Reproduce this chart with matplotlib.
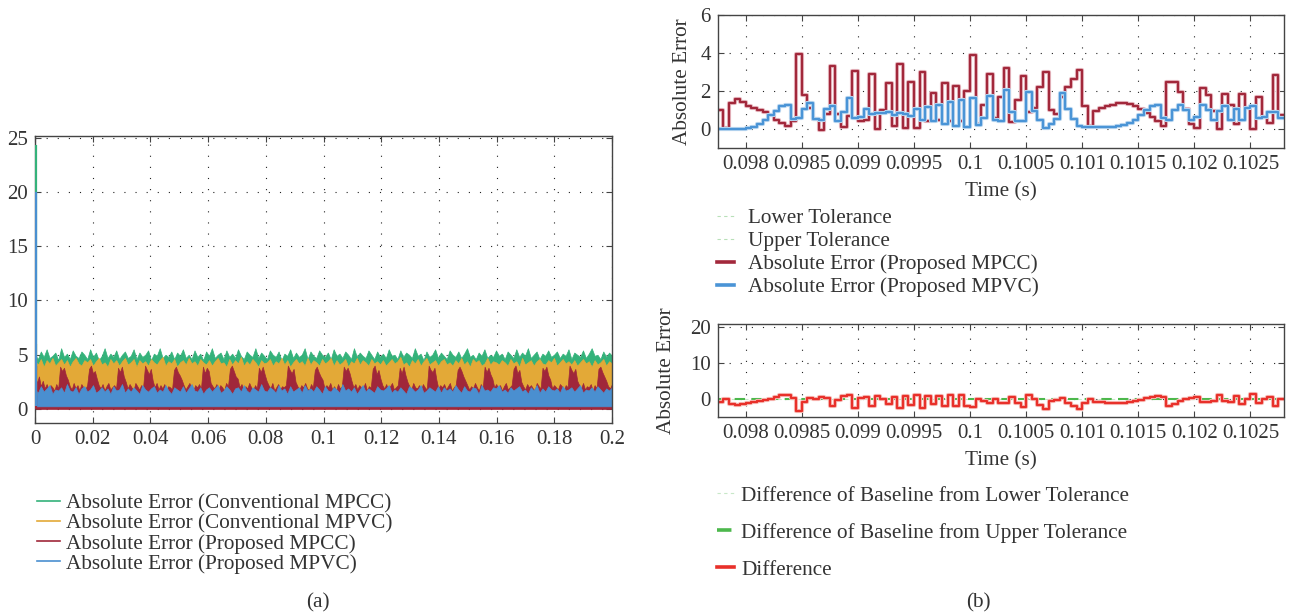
import numpy as np
import matplotlib
matplotlib.use('Agg')
import matplotlib.pyplot as plt
import matplotlib.patheffects as pe
from matplotlib.lines import Line2D
from matplotlib.ticker import FormatStrFormatter

plt.rcParams['font.family'] = ['Liberation Serif', 'DejaVu Serif']

# ---------------- data, panel (a): envelope samples of the dense error signals ----------------
startup_t = 0.0003
startup_peak = [24.3, 6.0, 4.0, 20.0]  # green, yellow, red, blue at switch-on
green_hi = [5.0, 4.6, 5.3, 4.8, 5.5, 4.7, 4.9, 5.2, 4.5, 5.6, 4.8, 5.1, 4.6, 5.4, 4.9, 4.7, 5.3, 5.0, 4.6, 5.5,
            4.8, 5.2, 4.5, 4.9, 5.6, 4.7, 5.1, 4.8, 5.4, 4.6, 5.0, 5.3, 4.7, 4.9, 5.5, 4.6, 5.2, 4.8, 5.0, 5.4,
            4.5, 5.1, 4.9, 5.6, 4.7, 5.0, 4.8, 5.3, 4.6, 5.2, 4.9, 5.5, 4.7, 5.0, 4.6, 5.4, 4.8, 5.1, 4.5, 5.3,
            4.9, 5.6, 4.7, 5.0, 5.2, 4.6, 5.4, 4.8, 5.1, 4.7, 5.5, 4.9, 4.6, 5.3, 5.0, 4.8, 5.6, 4.7, 5.2, 4.9,
            4.6, 5.4, 5.0, 4.8, 5.3, 4.5, 5.1, 4.9, 5.5, 4.7, 5.2, 4.8, 5.0, 5.6, 4.6, 5.3, 4.9, 4.7, 5.4, 5.0,
            4.8, 5.2, 4.6, 5.5, 4.9, 5.1, 4.7, 5.3, 5.0, 4.6, 5.6, 4.8, 5.2, 4.9, 4.7, 5.4, 5.0, 4.6, 5.3, 4.8,
            5.1, 4.7, 5.5, 4.9, 5.0, 4.6, 5.4, 4.8, 5.2, 5.0, 4.7, 5.6, 4.9, 5.1, 4.5, 5.3, 4.8, 5.0, 5.5, 4.7,
            5.2, 4.9, 4.6, 5.4, 5.0, 4.8, 5.3, 4.7, 5.1, 5.6, 4.8, 5.0, 4.6, 5.2, 4.9, 5.5, 4.7, 5.0, 4.8, 5.4,
            4.9, 5.1, 4.6, 5.3, 5.0, 4.7, 5.5, 4.8, 5.2, 4.9, 5.6, 4.7, 5.0, 5.3, 4.6, 5.1, 4.9, 5.4, 4.8, 5.0,
            5.3, 4.7, 5.1, 4.9, 5.5, 4.6, 5.2, 5.0, 4.8, 5.4, 4.7, 5.1, 5.6, 4.9, 5.0, 4.6, 5.3, 4.8, 5.2, 4.9]
green_floor = 3.6
yellow_hi = [4.4, 4.1, 4.6, 3.9, 4.5, 4.2, 4.7, 4.0, 4.3, 4.6, 4.1, 4.5, 3.9, 4.4, 4.7, 4.2, 4.0, 4.5, 4.3, 4.6,
             4.0, 4.4, 4.7, 4.1, 4.3, 3.9, 4.6, 4.2, 4.5, 4.0, 4.4, 4.7, 4.1, 4.3, 4.6, 3.9, 4.5, 4.2, 4.4, 4.0,
             4.6, 4.3, 4.1, 4.5, 4.8, 4.0, 4.4, 4.2, 4.6, 3.9, 4.3, 4.5, 4.1, 4.7, 4.2, 4.4, 4.0, 4.6, 4.3, 4.1,
             4.5, 4.0, 4.4, 4.7, 4.2, 4.3, 3.9, 4.6, 4.1, 4.5, 4.2, 4.8, 4.0, 4.4, 4.1, 4.6, 4.3, 3.9, 4.5, 4.2,
             4.3, 4.6, 4.0, 4.4, 4.2, 4.7, 4.1, 4.5, 3.9, 4.3, 4.6, 4.2, 4.4, 4.0, 4.7, 4.1, 4.5, 4.3, 4.0, 4.6,
             4.2, 4.4, 4.7, 4.0, 4.5, 4.1, 4.3, 4.6, 3.9, 4.4, 4.2, 4.7, 4.1, 4.5, 4.3, 4.0, 4.6, 4.2, 4.4, 4.1,
             4.5, 4.0, 4.3, 4.6, 4.2, 4.4, 4.8, 4.1, 4.3, 3.9, 4.5, 4.2, 4.6, 4.0, 4.4, 4.7, 4.1, 4.3, 4.5, 4.0,
             4.4, 4.6, 4.1, 4.3, 4.0, 4.5, 4.2, 4.7, 4.1, 4.4, 3.9, 4.6, 4.3, 4.5, 4.0, 4.2, 4.7, 4.1, 4.4, 4.3,
             4.1, 4.5, 4.3, 4.0, 4.6, 4.2, 4.4, 3.9, 4.7, 4.1, 4.3, 4.5, 4.0, 4.4, 4.6, 4.2, 4.1, 4.5, 4.3, 4.7,
             4.0, 4.3, 4.6, 4.2, 4.4, 4.1, 4.5, 4.0, 4.3, 4.6, 4.2, 4.4, 3.9, 4.5, 4.1, 4.3, 4.6, 4.0, 4.4, 4.2]
yellow_floor = 1.2
red_hi = [3.2, 2.4, 3.0, 2.1, 2.6, 1.9, 2.3, 1.8, 2.2, 2.0, 1.7, 2.3, 1.9,
          3.9, 3.5, 3.8, 3.1, 2.7, 2.1, 1.8, 2.4, 1.9, 2.2, 1.7, 2.3, 2.0, 1.8, 2.2,
          3.7, 4.0, 3.3, 3.5, 2.8, 2.2, 1.9, 2.3, 1.7, 2.1, 2.4, 1.8, 2.0, 2.2, 1.9,
          3.8, 3.4, 3.9, 3.0, 2.5, 1.9, 2.3, 2.0, 1.7, 2.4, 2.1, 1.8, 2.2, 2.0,
          4.0, 3.6, 3.2, 3.7, 2.6, 2.0, 2.4, 1.8, 2.2, 1.9, 2.3, 1.7, 2.1, 2.0, 1.8,
          3.6, 3.9, 3.4, 3.1, 2.7, 2.2, 1.8, 2.1, 2.4, 1.9, 1.7, 2.2, 2.0, 2.3, 1.9,
          3.9, 3.3, 3.8, 3.5, 2.4, 2.1, 1.9, 2.3, 1.8, 2.2, 2.0, 1.7, 2.4, 2.1,
          3.7, 4.0, 3.5, 3.0, 2.8, 2.0, 2.3, 1.8, 2.1, 1.9, 2.4, 2.0, 1.7, 2.2, 1.9,
          3.8, 3.4, 3.9, 3.2, 2.6, 2.2, 1.9, 2.4, 1.7, 2.0, 2.3, 1.8, 2.1, 2.0, 2.2,
          4.0, 3.6, 3.3, 3.7, 2.5, 2.1, 1.8, 2.2, 2.0, 2.4, 1.9, 1.7, 2.3, 2.0,
          3.6, 3.9, 3.4, 3.0, 2.7, 1.9, 2.2, 2.0, 2.4, 1.8, 2.1, 1.7, 2.3, 1.9, 2.1,
          3.9, 3.5, 3.8, 3.3, 2.6, 2.0, 2.3, 1.8, 2.2, 2.0, 1.9, 2.4, 1.7, 2.1, 2.0,
          3.7, 4.0, 3.2, 3.6, 2.8, 2.2, 1.9, 2.3, 1.7, 2.1, 2.4, 1.8, 2.0, 2.2,
          3.8, 3.3, 3.9, 3.1, 2.5, 2.1, 1.8, 2.4, 2.0, 1.9, 2.2, 1.7, 2.3, 2.0, 1.8,
          4.0, 3.6, 3.4, 3.8, 2.7, 1.9, 2.2, 2.0, 2.3, 1.8, 2.1, 2.4, 1.7, 2.0, 2.2,
          3.6, 3.9, 3.5, 3.0, 2.6, 2.2, 1.8, 2.1, 1.9, 2.4, 2.0, 1.7, 2.3, 1.9,
          3.9, 3.4, 3.8, 3.2, 2.8, 2.0, 2.3, 1.9, 2.2, 1.7, 2.1, 2.4, 1.8, 2.0, 2.2,
          3.7, 4.0, 3.3, 3.6, 2.5, 2.1, 1.8, 2.3, 2.0, 2.2, 1.9, 1.7, 2.4, 2.1, 1.9,
          3.8, 3.5, 3.9, 3.1, 2.7, 1.9, 2.2, 2.0, 1.8, 2.3, 2.1, 1.7, 2.2, 2.0,
          4.0, 3.6, 3.3, 3.7, 2.6, 2.2, 1.9, 2.4, 1.8, 2.1, 2.0, 2.3, 1.7, 2.2, 1.9,
          3.7, 3.9, 3.4, 3.0, 2.6, 2.1, 1.9, 2.3]
red_floor = 0.0
blue_hi = [1.8, 1.5, 2.1, 1.6, 1.9, 2.2, 1.4, 1.8, 1.7, 2.0, 1.5, 2.3, 1.7, 1.6, 2.0, 1.4, 1.9, 2.1, 1.6, 1.8,
           2.2, 1.5, 1.7, 2.0, 1.6, 1.9, 1.4, 2.1, 1.7, 1.8, 2.3, 1.5, 1.9, 1.6, 2.0, 1.7, 1.4, 2.2, 1.8, 1.6,
           1.9, 2.1, 1.5, 1.8, 1.6, 2.2, 1.7, 1.4, 2.0, 1.8, 1.6, 2.1, 1.5, 1.9, 2.3, 1.7, 1.6, 2.0, 1.4, 1.8,
           2.0, 1.6, 1.9, 2.2, 1.5, 1.7, 2.1, 1.8, 1.4, 1.9, 2.0, 1.6, 2.2, 1.7, 1.5, 2.0, 1.8, 1.6, 2.3, 1.7,
           1.6, 2.0, 1.8, 1.5, 2.2, 1.7, 1.9, 1.4, 2.1, 1.6, 1.8, 2.0, 1.5, 2.2, 1.7, 1.9, 1.6, 2.1, 1.8, 1.4,
           2.1, 1.7, 1.6, 2.0, 1.8, 1.5, 2.3, 1.7, 1.9, 1.6, 2.0, 1.4, 1.8, 2.2, 1.6, 1.9, 1.7, 1.5, 2.1, 1.8,
           1.7, 1.9, 2.2, 1.5, 1.8, 1.6, 2.0, 1.7, 1.4, 2.1, 1.9, 1.6, 1.8, 2.2, 1.5, 1.7, 2.0, 1.8, 1.6, 2.1,
           1.5, 2.0, 1.7, 1.9, 1.6, 2.2, 1.8, 1.5, 2.1, 1.7, 1.6, 2.0, 1.9, 1.4, 2.2, 1.7, 1.8, 1.6, 2.0, 1.9,
           2.2, 1.6, 1.8, 1.5, 2.0, 1.7, 1.9, 2.1, 1.6, 1.8, 1.4, 2.0, 1.7, 2.2, 1.5, 1.9, 1.6, 2.1, 1.8, 1.7,
           1.9, 1.5, 2.1, 1.7, 1.8, 2.0, 1.6, 1.9, 2.2, 1.5, 1.8, 1.7, 2.0, 1.6, 2.1, 1.8, 1.5, 1.9, 1.7, 2.0]
blue_floor = 0.25

labels_a = ['Absolute Error (Conventional MPCC)', 'Absolute Error (Conventional MPVC)',
            'Absolute Error (Proposed MPCC)', 'Absolute Error (Proposed MPVC)']
colors_a = ['#34b27a', '#e3a937', '#a0273a', '#4a8fd0']

# ---------------- data, panel (b): 50 us samples from 0.09775 s ----------------
t0 = 0.09775
dt = 0.00005
mpcc = [1.0, 0.07, 1.36, 1.6, 1.4, 1.19, 1.1, 1.0, 0.9, 0.73, 0.5, 0.3, 0.14, 0.42, 3.96, 1.8, 1.13, 0.55, -0.05, 0.8,
        3.3, 0.8, 0.1, 0.67, 3.08, 0.42, 0.46, 2.9, 0.0, 1.0, 2.4, 0.14, 3.4, 0.07, 2.5, 0.03, 3.0, 0.42, 1.88, 0.46,
        2.4, 0.42, 2.25, 0.42, 2.0, 3.9, 0.25, 1.25, 2.9, 0.57, 1.7, 3.2, 0.37, 1.52, 2.8, 0.87, 1.13, 2.23, 3.0, 1.0,
        0.78, 1.7, 2.2, 2.64, 3.1, 1.2, 0.18, 0.97, 1.1, 1.2, 1.27, 1.35, 1.38, 1.33, 1.2, 1.03, 0.85, 0.65, 0.4, 0.18,
        2.46, 2.5, 1.96, 1.04, 0.25, 0.07, 2.14, 1.8, 0.96, -0.02, 1.84, 1.27, 0.28, 1.84, 1.13, 0.02, 1.7, 0.64, 0.34, 2.85,
        0.74]
mpvc = [0.0, 0.0, 0.0, 0.0, -0.02, 0.05, 0.1, 0.25, 0.46, 0.73, 0.96, 1.22, 1.24, 0.55, 0.6, 1.03, 1.35, 0.55, 0.48, 1.03,
        1.22, 0.42, 0.87, 1.63, 0.6, 0.64, 1.03, 0.78, 0.85, 0.85, 0.9, 0.73, 0.85, 0.78, 0.7, 1.03, 0.5, 1.17, 0.4, 1.27,
        0.25, 1.4, 0.14, 1.52, 0.1, 1.63, 0.2, 0.6, 1.75, 0.46, 0.42, 2.07, 0.87, 0.4, 0.4, 1.93, 0.96, 0.5, 0.03, 0.28,
        0.55, 1.88, 1.04, 0.55, 0.16, 0.1, 0.09, 0.09, 0.09, 0.09, 0.1, 0.14, 0.21, 0.34, 0.5, 0.73, 1.0, 1.22, 1.26, 0.6,
        0.5, 1.0, 1.26, 1.0, 0.46, 0.64, 1.27, 1.0, 0.46, 0.96, 1.22, 0.5, 1.06, 0.5, 1.13, 1.22, 0.6, 0.64, 0.9, 0.87,
        0.6]
difference = [-1.0, -0.07, -1.36, -1.6, -1.42, -1.14, -1.0, -0.75, -0.44, 0.0, 0.46, 0.92, 1.1, 0.13, -3.36, -0.77, 0.22, 0.0, 0.53, 0.23,
              -2.08, -0.38, 0.77, 0.96, -2.48, 0.22, 0.57, -2.12, 0.85, -0.15, -1.5, 0.59, -2.55, 0.71, -1.8, 1.0, -2.5, 0.75, -1.48, 0.81,
              -2.15, 0.98, -2.11, 1.1, -1.9, -2.27, -0.05, -0.65, -1.15, -0.11, -1.28, -1.13, 0.5, -1.12, -2.4, 1.06, -0.17, -1.73, -2.97, -0.72,
              -0.23, 0.18, -1.16, -2.09, -2.94, -1.1, -0.09, -0.88, -1.01, -1.11, -1.17, -1.21, -1.17, -0.99, -0.7, -0.3, 0.15, 0.57, 0.86, 0.42,
              -1.96, -1.5, -0.7, -0.04, 0.21, 0.57, -0.87, -0.8, -0.5, 0.98, -0.62, -0.77, 0.78, -1.34, 0.0, 1.2, -1.1, 0.0, 0.56, -1.98,
              -0.14]
baseline_diff = 0.0
xticks_b = [0.098, 0.0985, 0.099, 0.0995, 0.1, 0.1005, 0.101, 0.1015, 0.102, 0.1025]

FS = 15.3
TS = 15
TXT = '#333333'


def style(ax):
    ax.tick_params(direction='in', top=True, right=True, length=4, width=0.8,
                   color='#444444', labelcolor=TXT, labelsize=TS, pad=5)
    for s in ax.spines.values():
        s.set_color('#444444')
        s.set_linewidth(1.0)
    ax.grid(True, color='#222222', linestyle=(0, (1, 9)), linewidth=0.8)
    ax.set_axisbelow(True)


fig = plt.figure(figsize=(12.93, 6.16), dpi=100)

# ---------------- panel (a) ----------------
ax = fig.add_axes([0.0271, 0.3138, 0.4462, 0.4654])
series = [(green_hi, green_floor), (yellow_hi, yellow_floor), (red_hi, red_floor), (blue_hi, blue_floor)]
for (hi, floor), peak, c, lab in zip(series, startup_peak, colors_a, labels_a):
    t = np.linspace(0, 0.2, len(hi))
    ax.fill_between(t, floor, hi, color=c, lw=0.5, edgecolor=c, label=lab)
    ax.vlines(startup_t, floor, peak, color=c, lw=1.6, zorder=3)
ax.set_xlim(0, 0.2)
ax.set_ylim(-1.26, 25.14)
ax.set_xticks(np.arange(0, 0.2001, 0.02))
ax.set_yticks([0, 5, 10, 15, 20, 25])
ax.xaxis.set_major_formatter(FormatStrFormatter('%g'))
style(ax)
handles = [Line2D([], [], color=c, lw=1.2) for c in colors_a]
fig.legend(handles, labels_a, loc='upper left', bbox_to_anchor=(0.0286, 0.198),
           frameon=False, fontsize=FS, labelcolor=TXT, borderpad=0, borderaxespad=0,
           handlelength=1.1, handletextpad=0.25, labelspacing=0.0)

# ---------------- panel (b), top ----------------
tb = t0 + dt * np.arange(len(mpcc) + 1)
halo_r = [pe.Stroke(linewidth=3.0, foreground='#e8bcc3'), pe.Normal()]
halo_b = [pe.Stroke(linewidth=3.0, foreground='#bcd8f0'), pe.Normal()]
halo_d = [pe.Stroke(linewidth=3.0, foreground='#f7bdb8'), pe.Normal()]

ax1 = fig.add_axes([0.5551, 0.7597, 0.4380, 0.2159])
ax1.step(tb, mpcc + [mpcc[-1]], where='post', color='#a2283b', lw=1.6, path_effects=halo_r)
ax1.step(tb, mpvc + [mpvc[-1]], where='post', color='#4a94d6', lw=1.6, path_effects=halo_b)
ax1.set_xlim(t0, t0 + dt * len(mpcc))
ax1.set_ylim(-1, 6)
ax1.set_yticks([0, 2, 4, 6])
ax1.set_xticks(xticks_b)
ax1.xaxis.set_major_formatter(FormatStrFormatter('%g'))
ax1.set_ylabel('Absolute Error', fontsize=FS, color=TXT, labelpad=6)
ax1.set_xlabel('Time (s)', fontsize=FS, color=TXT, labelpad=6)
style(ax1)
h1 = [Line2D([], [], color='#b8e0b8', lw=0.8, ls=(0, (3, 3))),
      Line2D([], [], color='#b8e0b8', lw=0.8, ls=(0, (3, 3))),
      Line2D([], [], color='#a2283b', lw=2.6),
      Line2D([], [], color='#4a94d6', lw=2.6)]
l1 = ['Lower Tolerance', 'Upper Tolerance', 'Absolute Error (Proposed MPCC)', 'Absolute Error (Proposed MPVC)']
fig.legend(h1, l1, loc='upper left', bbox_to_anchor=(0.5545, 0.662),
           frameon=False, fontsize=FS, labelcolor=TXT, borderpad=0, borderaxespad=0,
           handlelength=0.8, handletextpad=0.65, labelspacing=0.15)

# ---------------- panel (b), bottom ----------------
ax2 = fig.add_axes([0.5551, 0.3235, 0.4380, 0.1505])
ax2.axhline(baseline_diff, color='#c8e8c8', lw=0.8, ls=(0, (3, 3)))
ax2.axhline(baseline_diff, color='#4cb84c', lw=1.5, ls=(0, (5, 3)))
ax2.step(tb, difference + [difference[-1]], where='post', color='#e8302a', lw=1.6, path_effects=halo_d)
ax2.set_xlim(t0, t0 + dt * len(mpcc))
ax2.set_ylim(-5, 20.8)
ax2.set_yticks([0, 10, 20])
ax2.set_xticks(xticks_b)
ax2.xaxis.set_major_formatter(FormatStrFormatter('%g'))
ax2.set_ylabel('Absolute Error', fontsize=FS, color=TXT, labelpad=10)
ax2.set_xlabel('Time (s)', fontsize=FS, color=TXT, labelpad=6)
style(ax2)
h2 = [Line2D([], [], color='#c8e8c8', lw=0.8, ls=(0, (3, 3))),
      Line2D([], [], color='#4cb84c', lw=2.6, ls=(0, (4, 10))),
      Line2D([], [], color='#e8302a', lw=2.6)]
l2 = ['Difference of Baseline from Lower Tolerance', 'Difference of Baseline from Upper Tolerance', 'Difference']
fig.legend(h2, l2, loc='upper left', bbox_to_anchor=(0.5545, 0.211),
           frameon=False, fontsize=FS, labelcolor=TXT, borderpad=0, borderaxespad=0,
           handlelength=0.8, handletextpad=0.35, labelspacing=0.8)

fig.text(318 / 1293, 1 - 603 / 616, '(a)', ha='center', va='center', fontsize=FS, color=TXT)
fig.text(978 / 1293, 1 - 603 / 616, '(b)', ha='center', va='center', fontsize=FS, color=TXT)

fig.savefig('out.png', dpi=100)
